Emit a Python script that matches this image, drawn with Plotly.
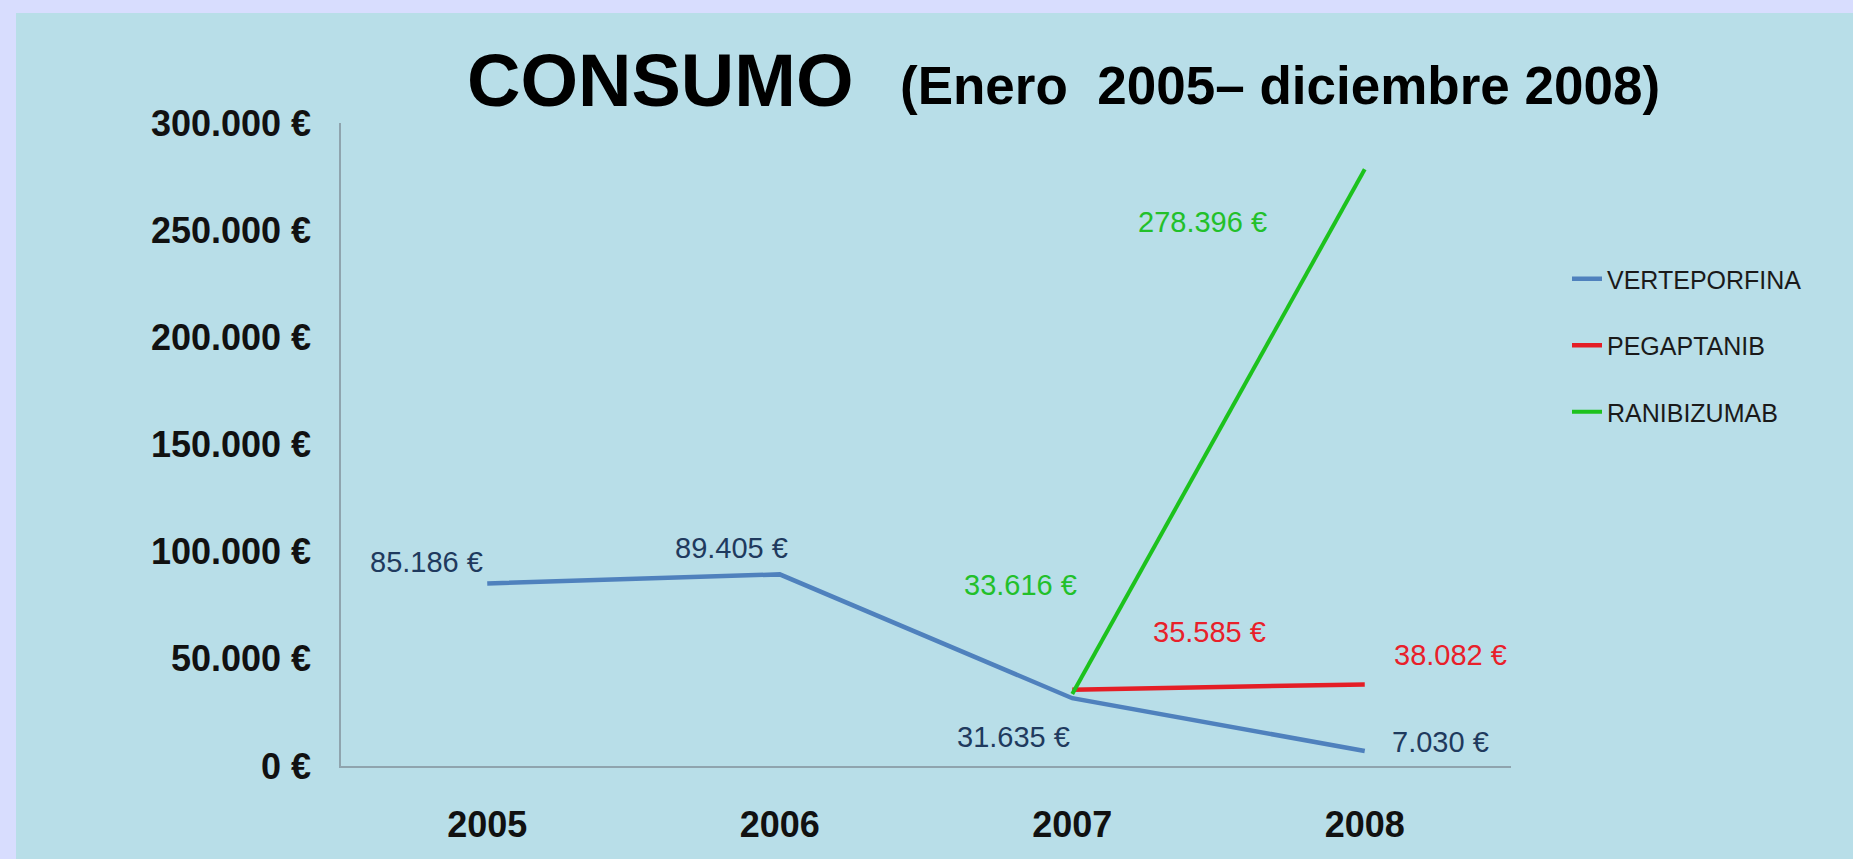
import plotly.graph_objects as go

years = ["2005", "2006", "2007", "2008"]
verteporfina = [85186, 89405, 31635, 7030]
pegaptanib = [None, None, 35585, 38082]
ranibizumab = [None, None, 33616, 278396]

ytick_vals = [0, 50000, 100000, 150000, 200000, 250000, 300000]
ytick_text = ["0 €", "50.000 €", "100.000 €", "150.000 €", "200.000 €", "250.000 €", "300.000 €"]

title_main = "CONSUMO"
title_sub = "(Enero\u00a0 2005– diciembre 2008)"

W, H = 1853, 859
ML, MR, MT, MB = 341, 342, 123, 93

BLUE = "#4F81BD"
RED = "#E41E26"
GREEN = "#1DC21D"
NAVY = "#1F3A5E"
LBL_RED = "#E8202A"
LBL_GREEN = "#22C02A"
FONT = "Liberation Sans, Arial, sans-serif"


def fmt(v):
    return f"{v:,}".replace(",", ".") + " €"


fig = go.Figure()
fig.add_trace(go.Scatter(x=years, y=verteporfina, mode="lines", name="VERTEPORFINA",
                         line=dict(color=BLUE, width=4.5), legendgroup="a"))
fig.add_trace(go.Scatter(x=years, y=pegaptanib, mode="lines", name="PEGAPTANIB",
                         line=dict(color=RED, width=4.5), legendgroup="b"))
fig.add_trace(go.Scatter(x=years, y=ranibizumab, mode="lines", name="RANIBIZUMAB",
                         line=dict(color=GREEN, width=4), legendgroup="c"))

# data labels (pixel offsets from the point)
label_specs = [
    (verteporfina, NAVY, [(-61, 21), (-48, 26), (-59, -39), (76, 9)]),
    (pegaptanib, LBL_RED, [None, None, (137, 58), (86, 29)]),
    (ranibizumab, LBL_GREEN, [None, None, (-52, 109), (-162, -53)]),
]
annotations = []
for ys, col, offs in label_specs:
    for i, (yv, off) in enumerate(zip(ys, offs)):
        if yv is None or off is None:
            continue
        annotations.append(dict(x=i, y=yv, xref="x", yref="y", text=fmt(yv), showarrow=False,
                                xshift=off[0], yshift=off[1],
                                font=dict(family=FONT, size=29, color=col)))

ph = H - MT - MB
pw = W - ML - MR


def py(pix):
    return (H - MB - pix) / ph


def px(pix):
    return (pix - ML) / pw


annotations.append(dict(x=px(465), y=py(80), xref="paper", yref="paper", xanchor="left", yanchor="middle",
                        text="<b>" + title_main + "</b>", showarrow=False,
                        font=dict(family=FONT, size=74, color="#000000")))
annotations.append(dict(x=px(1662), y=py(85), xref="paper", yref="paper", xanchor="right", yanchor="middle",
                        text="<b>" + title_sub + "</b>", showarrow=False,
                        font=dict(family=FONT, size=53, color="#000000")))

shapes = [dict(type="rect", xref="paper", yref="paper", x0=px(16), x1=px(W + 10), y0=py(H + 10), y1=py(13),
               fillcolor="#B8DEE8", line=dict(width=0), layer="below")]

fig.update_layout(
    width=W, height=H,
    margin=dict(l=ML, r=MR, t=MT, b=MB, pad=0, autoexpand=False),
    paper_bgcolor="#D8DDFE",
    plot_bgcolor="rgba(0,0,0,0)",
    shapes=shapes,
    annotations=annotations,
    showlegend=True,
    legend=dict(x=px(1567), y=py(256), xanchor="left", yanchor="top",
                bgcolor="rgba(0,0,0,0)", tracegroupgap=31,
                font=dict(family=FONT, size=25, color="#1A1A1A")),
    xaxis=dict(type="category", showgrid=False, zeroline=False, showline=True, linecolor="#8FA4AE", linewidth=1.5,
               ticks="", ticklabelstandoff=26, range=[-0.5, 3.5],
               tickfont=dict(family=FONT, size=36, color="#111111"),
               tickprefix="<b>", ticksuffix="</b>"),
    yaxis=dict(showgrid=False, zeroline=False, showline=True, linecolor="#8FA4AE", linewidth=1.5,
               ticks="", range=[0, 300000], tickvals=ytick_vals, ticktext=["<b>" + t + "</b>" for t in ytick_text],
               ticklabelstandoff=21,
               tickfont=dict(family=FONT, size=36, color="#111111")),
)

fig.write_html("out.html", config={"displayModeBar": False},
               post_script="document.body.style.margin='0';document.body.style.overflow='hidden';")
